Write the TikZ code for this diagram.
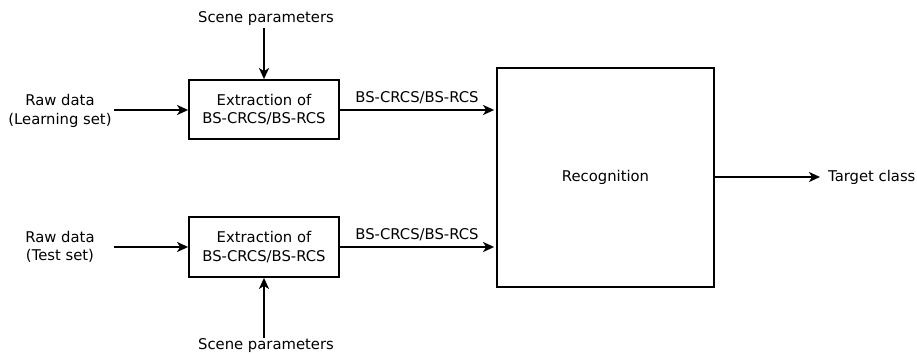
\documentclass[tikz,border=0pt]{standalone}
\usepackage{fontspec}
\setmainfont{DejaVu Sans}
\usetikzlibrary{arrows.meta}
\begin{document}
\begin{tikzpicture}[x=1pt,y=-1pt,
  every node/.style={font=\fontsize{14.8}{18.5}\selectfont, align=center, inner sep=0pt},
  blk/.style={draw, line width=1.8pt, fill=white},
  conn/.style={line width=1.8pt, -{Stealth[length=11pt,width=10pt,inset=3pt]}}]
\useasboundingbox (0,0) rectangle (917,356);
% boxes
\node[blk, minimum width=150, minimum height=59] (ext1) at (264,109.5) {Extraction of\\BS-CRCS/BS-RCS};
\node[blk, minimum width=150, minimum height=60] (ext2) at (264,247) {Extraction of\\BS-CRCS/BS-RCS};
\node[blk, minimum width=217, minimum height=219] (rec) at (605.5,177.5) {Recognition};
% texts
\node (sp1) at (266,19) {Scene parameters};
\node (sp2) at (266,346) {Scene parameters};
\node (raw1) at (60,111) {Raw data\\(Learning set)};
\node (raw2) at (60,247) {Raw data\\(Test set)};
\node[anchor=west] (tc) at (828,177) {Target class};
\coordinate (r1) at (114,110);
\coordinate (r2) at (114,247);
\coordinate (t1) at (820,177);
% connectors
\draw[conn] (264,28) -- (ext1.north);
\draw[conn] (264,338) -- (ext2.south);
\draw[conn] (r1) -- (ext1.west |- r1);
\draw[conn] (r2) -- (ext2.west |- r2);
\draw[conn] (ext1.east |- r1) -- node[above=5pt] (l1) {BS-CRCS/BS-RCS} ([xshift=-2pt]rec.west |- r1);
\draw[conn] (ext2.east |- r2) -- node[above=5pt] (l2) {BS-CRCS/BS-RCS} ([xshift=-2pt]rec.west |- r2);
\draw[conn] (rec.east |- t1) -- (t1);
\end{tikzpicture}
\end{document}
